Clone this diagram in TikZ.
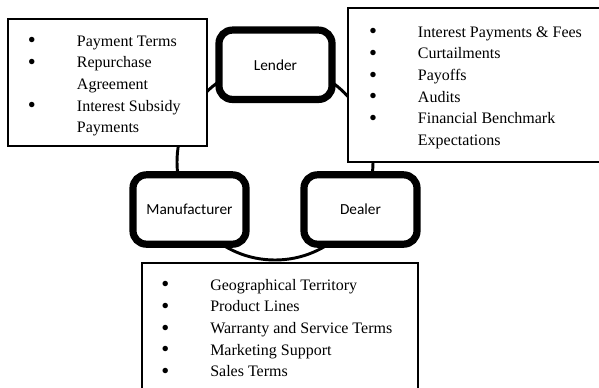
\documentclass[tikz,border=0pt]{standalone}
\usepackage{fontspec}
\setmainfont{Liberation Serif}
\newfontfamily\calibri{Carlito}
\usetikzlibrary{calc}
\newcommand{\party}[3]{\node[party] (#1) at #2 {#3};}
\newcommand{\bul}{\makebox[0pt]{\raisebox{-1.3pt}{\fontsize{17}{17}\selectfont\textbullet}}}
\newcommand{\itemlist}[3]{\node[items] (#1) at #2 {\begin{tabular}[t]{@{}p{33.75pt}@{}l@{}}#3\end{tabular}};}

\begin{document}
\begin{tikzpicture}[x=0.75pt,y=-0.75pt,
  party/.style={draw,line width=5.4pt,rounded corners=10pt,fill=white,
    minimum width=84.75pt,minimum height=52pt,inner sep=0pt,
    font=\calibri\fontsize{11.5}{14}\selectfont},
  listframe/.style={draw,line width=1pt,fill=white},
  items/.style={anchor=base west,inner sep=0pt,font=\fontsize{12}{16.3}\selectfont}]
\useasboundingbox (0,0) rectangle (599,387);
% ring behind the three parties
\coordinate (hub) at (275,162);
\draw[line width=2.2pt] (hub) circle (98);
\party{lender}{(275.5,64.75)}{Lender}
\party{maker}{(189.5,209.5)}{Manufacturer}
\party{dealer}{(360.5,209.5)}{Dealer}
% boxes with the terms
\draw[listframe] (8,19) rectangle (207,146);
\draw[listframe] (348,8) rectangle (610,162);
\draw[listframe] (142,263) rectangle (418,400);
\itemlist{payterms}{(31.7,46)}{%
\bul & Payment Terms\\
\bul & Repurchase\\
 & Agreement\\
\bul & Interest Subsidy\\
 & Payments}
\itemlist{loanterms}{(372.7,37)}{%
\bul & Interest Payments \& Fees\\
\bul & Curtailments\\
\bul & Payoffs\\
\bul & Audits\\
\bul & Financial Benchmark\\
 & Expectations}
\itemlist{dealterms}{(165,290)}{%
\bul & Geographical Territory\\
\bul & Product Lines\\
\bul & Warranty and Service Terms\\
\bul & Marketing Support\\
\bul & Sales Terms}
\end{tikzpicture}
\end{document}
